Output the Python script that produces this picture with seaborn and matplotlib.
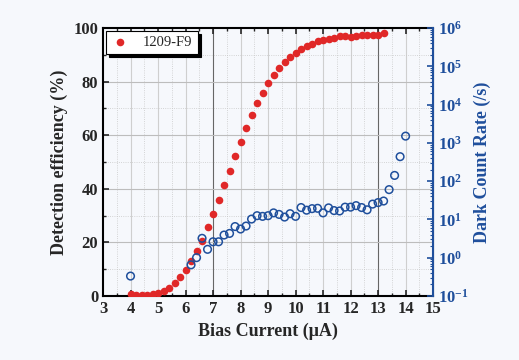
import numpy as np
import pandas as pd
import matplotlib
matplotlib.use("Agg")
import matplotlib.pyplot as plt
import seaborn as sns
from matplotlib.ticker import MultipleLocator, LogLocator, NullFormatter

# detection efficiency (%) vs bias current (uA)
de_current = [4.0, 4.2, 4.4, 4.6, 4.8, 5.0, 5.2, 5.4, 5.6, 5.8, 6.0, 6.2, 6.4, 6.6, 6.8,
              7.0, 7.2, 7.4, 7.6, 7.8, 8.0, 8.2, 8.4, 8.6, 8.8, 9.0, 9.2, 9.4, 9.6, 9.8,
              10.0, 10.2, 10.4, 10.6, 10.8, 11.0, 11.2, 11.4, 11.6, 11.8, 12.0, 12.2,
              12.4, 12.6, 12.8, 13.0, 13.2]
de_values = [0.7, 0.25, 0.25, 0.4, 0.6, 1.0, 1.7, 3.1, 4.7, 7.0, 9.7, 13.0, 16.9, 20.6, 25.6,
             30.6, 35.8, 41.3, 46.8, 52.2, 57.5, 62.8, 67.5, 71.9, 75.9, 79.4, 82.3, 85.0,
             87.4, 89.3, 90.8, 92.2, 93.4, 94.2, 95.3, 95.6, 95.9, 96.3, 97.0, 97.0, 96.8,
             97.1, 97.4, 97.5, 97.6, 97.6, 98.3]

# dark count rate (/s) vs bias current (uA)
dcr_current = [4.0, 6.2, 6.4, 6.6, 6.8, 7.0, 7.2, 7.4, 7.6, 7.8, 8.0, 8.2, 8.4, 8.6, 8.8,
               9.0, 9.2, 9.4, 9.6, 9.8, 10.0, 10.2, 10.4, 10.6, 10.8, 11.0, 11.2, 11.4,
               11.6, 11.8, 12.0, 12.2, 12.4, 12.6, 12.8, 13.0, 13.2, 13.4, 13.6, 13.8, 14.0]
dcr_values = [0.33, 0.65, 1.0, 3.2, 1.65, 2.6, 2.6, 3.9, 4.3, 6.5, 5.6, 6.7, 10.2, 12.5, 12.0,
              12.5, 14.8, 13.5, 11.5, 14.1, 12.0, 20.4, 17.4, 19.1, 19.5, 14.8, 20.0, 17.0,
              16.6, 20.9, 20.9, 22.9, 20.4, 17.8, 25.1, 27.5, 30.2, 60.0, 141.0, 436.0, 1500.0]

df_de = pd.DataFrame({"current": de_current, "de": de_values})
df_dcr = pd.DataFrame({"current": dcr_current, "dcr": dcr_values})

red = "#e02828"
blue = "#1f4f9c"
bg = "#f6f8fc"

sns.set_style("ticks")
plt.rcParams["font.family"] = ["Liberation Serif", "DejaVu Serif"]

fig = plt.figure(figsize=(5.19, 3.6), dpi=100, facecolor=bg)
ax = fig.add_axes([0.1985, 0.178, 0.636, 0.744])
ax.set_facecolor(bg)

# grid
for v in np.arange(3.5, 15, 1.0):
    ax.axvline(v, color="#c8c8c8", lw=0.6, ls=":", zorder=0)
for v in range(4, 15):
    ax.axvline(v, color="#666666" if v in (7, 13) else "#cfcfcf", lw=0.8, zorder=0)
for v in range(10, 100, 20):
    ax.axhline(v, color="#c8c8c8", lw=0.6, ls=":", zorder=0)
for v in range(20, 100, 20):
    ax.axhline(v, color="#bdbdbd", lw=0.8, zorder=0)

sns.scatterplot(data=df_de, x="current", y="de", ax=ax, color=red, s=30,
                edgecolor=red, linewidth=0, label="1209-F9", zorder=3)

ax.set_xlim(3, 15)
ax.set_ylim(0, 100)
ax.xaxis.set_major_locator(MultipleLocator(1))
ax.xaxis.set_minor_locator(MultipleLocator(0.5))
ax.yaxis.set_major_locator(MultipleLocator(20))
ax.yaxis.set_minor_locator(MultipleLocator(10))
ax.tick_params(axis="both", which="major", direction="in", length=4, width=1.2,
               top=True, labelsize=12)
ax.tick_params(axis="both", which="minor", direction="in", length=2, width=1, top=True)
for lab in ax.get_xticklabels() + ax.get_yticklabels():
    lab.set_fontweight("bold")
ax.set_xlabel("Bias Current (μA)", fontsize=13, fontweight="bold")
ax.set_ylabel("Detection efficiency (%)", fontsize=13, fontweight="bold")
for s in ["left", "bottom", "top"]:
    ax.spines[s].set_linewidth(1.5)
    ax.spines[s].set_color("black")

ax2 = ax.twinx()
sns.scatterplot(data=df_dcr, x="current", y="dcr", ax=ax2, s=30, marker="o",
                facecolor="none", edgecolor=blue, linewidth=1.1, zorder=3)
ax2.set_yscale("log")
ax2.set_ylim(0.1, 1e6)
ax2.yaxis.set_major_locator(LogLocator(base=10, numticks=10))
ax2.yaxis.set_minor_locator(LogLocator(base=10, subs=np.arange(2, 10), numticks=20))
ax2.yaxis.set_minor_formatter(NullFormatter())
ax2.tick_params(axis="y", which="major", direction="in", length=4, width=1.2,
                colors=blue, labelsize=12)
ax2.tick_params(axis="y", which="minor", direction="in", length=2, width=0.8, colors=blue)
ax2.set_ylabel("Dark Count Rate (/s)", fontsize=13, fontweight="bold", color=blue)
ax2.spines["right"].set_color(blue)
ax2.spines["right"].set_linewidth(1.5)
for s in ["left", "bottom", "top"]:
    ax2.spines[s].set_visible(False)
for lab in ax2.get_yticklabels():
    lab.set_fontweight("bold")

leg = ax.legend(loc="upper left", frameon=True, fancybox=False,
                shadow={"color": "black", "alpha": 1.0},
                fontsize=10.5, handlelength=1.2, handletextpad=1.0, borderpad=0.35,
                borderaxespad=0.2)
leg.get_frame().set_edgecolor("black")
leg.get_frame().set_linewidth(0.8)
leg.get_frame().set_facecolor("white")
leg.get_frame().set_alpha(1)

fig.savefig("out.png", dpi=100, facecolor=bg)
